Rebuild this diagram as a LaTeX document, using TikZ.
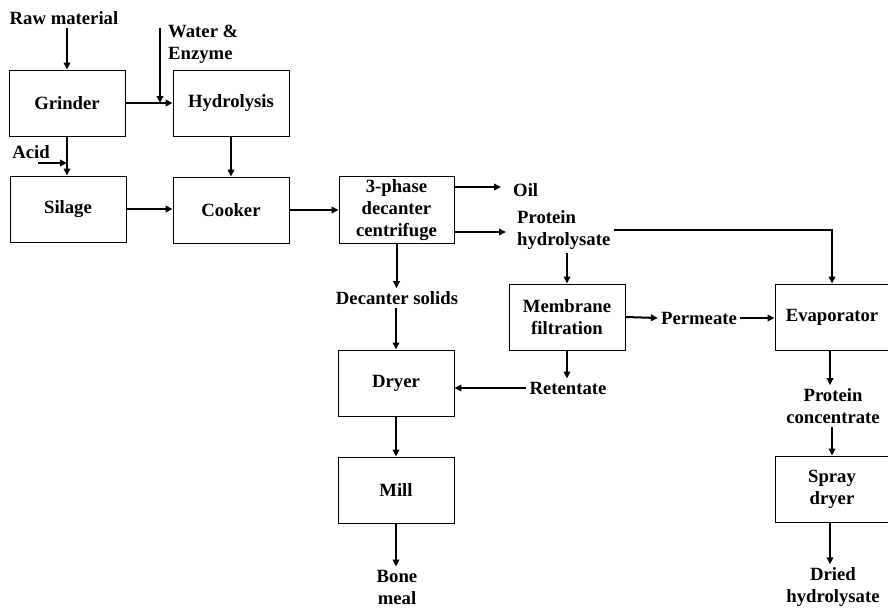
\documentclass[tikz,border=0pt]{standalone}
\usepackage{fontspec}
\setmainfont{Liberation Serif}
\usetikzlibrary{arrows.meta}
\begin{document}
\begin{tikzpicture}[x=1pt,y=-1pt,
  every node/.style={font=\bfseries\fontsize{18.7}{22}\selectfont, inner sep=3pt},
  box/.style={draw, line width=0.9pt, minimum width=116pt, minimum height=66pt, align=center},
  lbl/.style={align=center},
  arr/.style={line width=2pt, -{Triangle[length=7pt,width=6.5pt]}},
  ln/.style={line width=2pt}]
\useasboundingbox (0,0) rectangle (888,608);
% boxes
\node[box] (grinder) at (67,103) {Grinder};
\node[box] (hydro) at (231,103) {Hydrolysis};
\node[box] (silage) at (68,209) {Silage};
\node[box] (cooker) at (231,210) {Cooker};
\node[box, minimum width=115pt] (dec) at (396.5,210) {3-phase\\decanter\\centrifuge};
\node[box] (dryer) at (396,383) {Dryer};
\node[box] (mill) at (396,490) {Mill};
\node[box] (memb) at (567,317) {Membrane\\filtration};
\node[box, minimum width=114pt] (evap) at (832,317) {Evaporator};
\node[box, minimum width=114pt] (spray) at (832,489) {Spray\\dryer};
% labels
\node[lbl] (raw) at (64,18) {Raw material};
\node[align=left, anchor=west] (water) at (165,44) {Water \&\\Enzyme};
\node[lbl] (acid) at (31,152) {Acid};
\node[anchor=west] (oil) at (510,190) {Oil};
\node[align=left, anchor=west] (ph) at (514,230) {Protein\\hydrolysate};
\node[lbl] (ds) at (397,298) {Decanter solids};
\node[lbl] (perm) at (699,318) {Permeate};
\node[lbl] (ret) at (568,388) {Retentate};
\node[lbl] (pc) at (833,406) {Protein\\concentrate};
\node[lbl] (bone) at (397,587) {Bone\\meal};
\node[lbl] (dh) at (833,587) {Dried\\hydrolysate};
\coordinate (wtop) at (160,28);
\coordinate (wend) at (160,103);
\coordinate (acidstart) at (38,163);
\coordinate (acidend) at (67,163);
% connectors
\draw[arr] (grinder.north |- raw.south) -- (grinder.north);
\draw[arr] (grinder.east) -- (hydro.west);
\draw[arr] (wtop) -- (wend);
\draw[arr] (grinder.south) -- (grinder.south |- silage.north);
\draw[arr] (acidstart) -- (acidend);
\draw[arr] (hydro.south) -- (hydro.south |- cooker.north);
\draw[arr] (silage.east) -- (silage.east -| cooker.west);
\draw[arr] (cooker.east) -- (dec.west);
\draw[arr, shorten >=9pt] (dec.east |- 0,187) -- (oil.west |- 0,187);
\draw[arr, shorten >=8pt] (dec.east |- 0,232) -- (ph.west |- 0,232);
\draw[arr] (ph.east |- 0,230) -| (evap.north);
\draw[arr] (memb.north |- ph.south) -- (memb.north);
\draw[arr] (dec.south) -- (dec.south |- ds.north);
\draw[arr] (dryer.north |- ds.south) -- (dryer.north);
\draw[arr] (memb.east) -- (perm.west);
\draw[arr] (perm.east) -- (evap.west |- perm.east);
\draw[arr] (memb.south) -- (memb.south |- ret.north);
\draw[arr] (ret.west) -- (dryer.east |- ret.west);
\draw[arr] (dryer.south) -- (mill.north);
\draw[arr] (mill.south) -- (mill.south |- bone.north);
\draw[arr] (evap.south -| 830,0) -- (pc.north -| 830,0);
\draw[arr] (pc.south -| 832,0) -- (spray.north);
\draw[arr] (spray.south -| 830,0) -- (dh.north -| 830,0);
\end{tikzpicture}
\end{document}
